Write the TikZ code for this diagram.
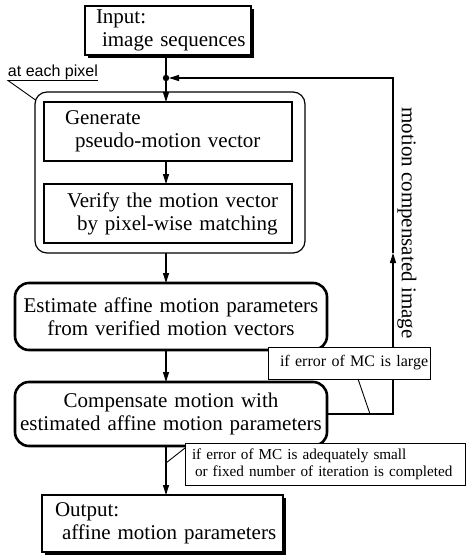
\documentclass[tikz,border=0pt]{standalone}
\usepackage{fontspec}
\setmainfont{Liberation Serif}
\newfontfamily\labsans{Liberation Sans}
\usetikzlibrary{arrows.meta,calc}
\newcommand\tline[2]{\mbox{\hspace{#1}#2}}
\begin{document}
\begin{tikzpicture}[x=1pt,y=-1pt,
  every node/.style={inner sep=0pt, outer sep=0pt},
  main/.style={font=\fontsize{21}{23}\selectfont},
  small/.style={font=\fontsize{16}{17.5}\selectfont},
  plainbox/.style={draw, line width=1.1pt, fill=white, main, align=left},
  shadowbox/.style={plainbox, preaction={fill=black, transform canvas={shift={(3pt,-3pt)}}}},
  thickbox/.style={draw, line width=2.6pt, fill=white, rounded corners=14pt, main, align=center},
  container/.style={draw, line width=1.2pt, rounded corners=12pt},
  notebox/.style={draw, line width=1pt, fill=white, small, align=left},
  arr/.style={line width=1.1pt, -{Triangle[length=10pt,width=6pt]}},
  plain/.style={line width=1.1pt},
  callout/.style={line width=0.9pt}
]
\useasboundingbox (0,0) rectangle (466,556);
\fill[white] (0,0) rectangle (466,556);

% nodes
\node[shadowbox, text width=166pt, minimum height=49pt] (in) at (168,30.5)
  {\tline{11pt}{Input:}\\\tline{17pt}{image sequences}};
\node[container, minimum width=270pt, minimum height=161pt] (cont) at (170,172.5) {};
\node[plainbox, text width=248pt, minimum height=59pt] (gen) at (168,131.5)
  {\tline{21pt}{Generate}\\\tline{31pt}{pseudo-motion vector}};
\node[plainbox, text width=248pt, minimum height=59pt] (ver) at (168,213.5)
  {\tline{23pt}{Verify the motion vector}\\\tline{33pt}{by pixel-wise matching}};
\node[thickbox, text width=312pt, minimum height=67pt] (est) at (171,316.5)
  {Estimate affine motion parameters\\from verified motion vectors};
\node[thickbox, text width=312pt, minimum height=64pt] (comp) at (171,414)
  {Compensate motion with\\estimated affine motion parameters};
\node[shadowbox, text width=241pt, minimum height=57pt] (out) at (162.5,523.5)
  {\tline{13pt}{Output:}\\\tline{20pt}{affine motion parameters}};

\node[main, rotate=-90] (mci) at (407,223) {motion compensated image};
\node[font=\labsans\fontsize{16}{18}\selectfont, anchor=base west] (ep) at (8,77) {at each pixel};

% coordinates
\coordinate (j) at (166,78);
\coordinate (rt) at (393,78);
\coordinate (mid) at (393,253);

% connectors
\draw[plain] (in.south -| j) -- (j);
\fill (j) circle (3.2pt);
\draw[arr] (j) -- (gen.north -| j);
\draw[arr] (gen.south -| j) -- (ver.north -| j);
\draw[arr] (cont.south -| j) -- (est.north -| j);
\draw[arr] (est.south -| j) -- (comp.north -| j);
\draw[arr] (comp.south -| j) -- (out.north -| j);
\draw[arr] (comp.east) -- (comp.east -| rt) -- (mid);
\draw[arr, shorten >=3pt] (mid) -- (rt) -- (j);

\draw[callout] ($(cont.north west)+(0.5,8)$) -- ($(ep.base west)+(0,3.5)$) -- ($(ep.base east)+(0,3.5)$);

% note boxes
\node[notebox, text width=162pt, minimum height=32pt] (lab1) at (349,363)
  {\tline{12pt}{if error of MC is large}};
\node[notebox, text width=280pt, minimum height=42pt, font=\fontsize{15.2}{17}\selectfont] (lab2) at (325,464)
  {\tline{7pt}{if error of MC is adequately small}\\\tline{10pt}{or fixed number of iteration is completed}};

\draw[callout] ($(lab1.south west)+(90,0)$) -- ($(comp.east -| rt)+(-23,0)$);
\draw[callout] ($(lab2.north west)+(0,5)$) -- ($(lab2.north west -| j)+(0,20)$);
\end{tikzpicture}
\end{document}
